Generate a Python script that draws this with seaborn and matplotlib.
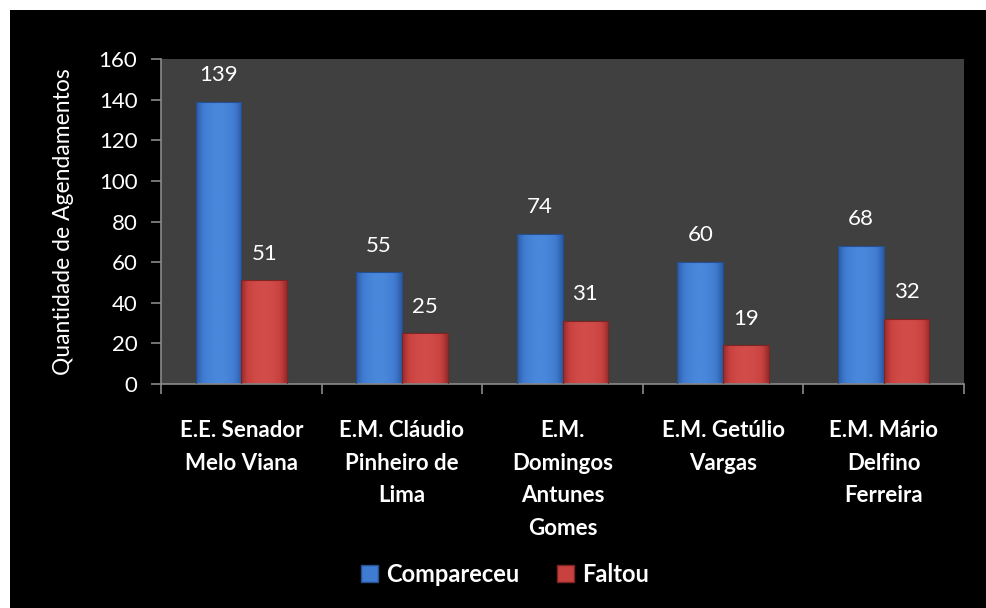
import matplotlib
matplotlib.use("Agg")
import matplotlib.pyplot as plt
from matplotlib.colors import LinearSegmentedColormap
from matplotlib.patches import Rectangle
import numpy as np
import pandas as pd
import seaborn as sns

schools = [
    "E.E. Senador\nMelo Viana",
    "E.M. Cláudio\nPinheiro de\nLima",
    "E.M.\nDomingos\nAntunes\nGomes",
    "E.M. Getúlio\nVargas",
    "E.M. Mário\nDelfino\nFerreira",
]
compareceu = [139, 55, 74, 60, 68]
faltou = [51, 25, 31, 19, 32]
series = ["Compareceu", "Faltou"]
y_ticks = [0, 20, 40, 60, 80, 100, 120, 140, 160]

df = pd.DataFrame({
    "escola": schools * 2,
    "status": [series[0]] * len(schools) + [series[1]] * len(schools),
    "valor": compareceu + faltou,
})

sns.set_theme(style="dark")
plt.rcParams["font.family"] = ["Lato", "DejaVu Sans"]

fig = plt.figure(figsize=(9.86, 6.08), dpi=100, facecolor="white")
fig.patches.append(Rectangle((10 / 986, 0), 1, 598 / 608, transform=fig.transFigure,
                             facecolor="black", edgecolor="none", zorder=-10))
ax = fig.add_axes([161 / 986, 1 - 384 / 608, (964 - 161) / 986, (384 - 59) / 608])
ax.set_zorder(1)
ax.set_facecolor("#404040")

palette = {"Compareceu": "#3f7bd0", "Faltou": "#c8413f"}
sns.barplot(data=df, x="escola", y="valor", hue="status", palette=palette,
            width=0.57, gap=0, saturation=1, ax=ax, legend=True)

# bevel-like shading: darker at the sides, brighter in the middle
shades = [
    ("#2c5ba3", "#3f7bd0", "#4a88dc"),
    ("#962c2a", "#c8413f", "#d24d4a"),
]
edges = ["#24508f", "#7e2523"]
grad = np.abs(np.linspace(-1, 1, 64))[None, :]
for bars, shade, edge in zip(ax.containers, shades, edges):
    cmap = LinearSegmentedColormap.from_list("b", [shade[2], shade[1], shade[0]])
    for b in bars:
        x0, w, h = b.get_x(), b.get_width(), b.get_height()
        im = ax.imshow(grad ** 2, cmap=cmap, aspect="auto", extent=[x0, x0 + w, 0, h],
                       zorder=2, interpolation="bilinear")
        im.set_clip_path(b)
        b.set_edgecolor(edge)
        b.set_linewidth(0.8)
        b.set_zorder(3)
        b.set_facecolor("none")
    ax.bar_label(bars, padding=12, color="white", fontsize=16)

ax.set_ylim(0, 160)
ax.set_yticks(y_ticks)
ax.set_xlim(-0.5, len(schools) - 0.5)
ax.set_ylabel("Quantidade de Agendamentos", color="white", fontsize=16.5, labelpad=18)
ax.set_xlabel("")

for s in ["top", "right"]:
    ax.spines[s].set_visible(False)
for s in ["left", "bottom"]:
    ax.spines[s].set_visible(True)
    ax.spines[s].set_color("#8a8a8a")
    ax.spines[s].set_linewidth(1.2)

ax.tick_params(axis="y", colors="#8a8a8a", labelcolor="white", labelsize=16,
               length=7, width=1.2, direction="out", left=True, pad=10)
# category labels without ticks; boundary ticks set as minor ticks
ax.tick_params(axis="x", which="major", length=0, labelcolor="white", pad=26)
ax.set_xticks([i - 0.5 for i in range(len(schools) + 1)], minor=True)
ax.tick_params(axis="x", which="minor", bottom=True, length=7, width=1.2,
               color="#8a8a8a", direction="out")
for lbl in ax.get_xticklabels():
    lbl.set_fontweight("bold")
    lbl.set_fontsize(16)
    lbl.set_linespacing(1.68)
    lbl.set_verticalalignment("top")
ax.grid(False)

handles, labels = ax.get_legend_handles_labels()
ax.legend_.remove()
leg = fig.legend(handles, labels, loc="center", bbox_to_anchor=(505 / 986, 1 - 574 / 608),
                 ncol=2, frameon=False, handlelength=0.7, handleheight=0.7,
                 handletextpad=0.35, columnspacing=1.6,
                 prop={"weight": "bold", "size": 17})
for t, h, shade, edge in zip(leg.get_texts(), leg.legend_handles, shades, edges):
    t.set_color("white")
    h.set_facecolor(shade[1])
    h.set_edgecolor(edge)

fig.savefig("out.png", dpi=100, facecolor="white")
